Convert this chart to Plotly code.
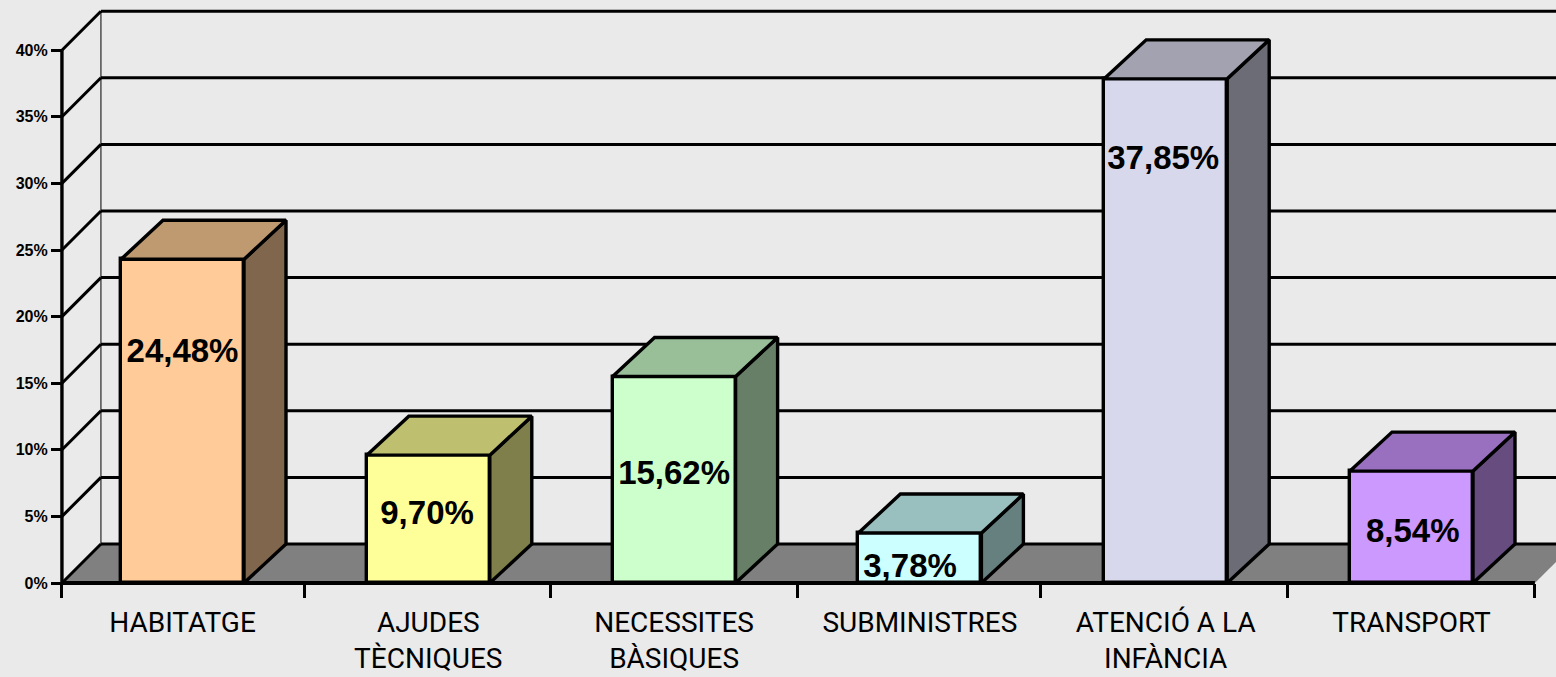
import plotly.graph_objects as go

# ---- data ----
categories = ["HABITATGE", "AJUDES<br>TÈCNIQUES", "NECESSITES<br>BÀSIQUES",
              "SUBMINISTRES", "ATENCIÓ A LA<br>INFÀNCIA", "TRANSPORT"]
bar_values = [24.3, 9.6, 15.5, 3.75, 37.85, 8.4]
value_labels = ["24,48%", "9,70%", "15,62%", "3,78%", "37,85%", "8,54%"]
label_heights = [17.18, 5.08, 8.08, 1.08, 31.68, 3.68]
label_offsets = [0.0, -0.005, 0.0, -0.04, -0.01, 0.005]
y_ticks = [0, 5, 10, 15, 20, 25, 30, 35, 40]
y_tick_text = ["0%", "5%", "10%", "15%", "20%", "25%", "30%", "35%", "40%"]
x_boundaries = [-0.4905, 0.498, 1.499, 2.504, 3.492, 4.497, 5.502]

front_colors = ["#FFCC99", "#FFFF99", "#CCFFCC", "#CCFFFF", "#D8D8EC", "#CC99FF"]
top_colors = ["#BF9970", "#BFBF70", "#99BF99", "#99BFBF", "#A2A2B1", "#9970BF"]
side_colors = ["#7F664C", "#7F7F4C", "#667F66", "#667F7F", "#6C6C76", "#664C7F"]

# ---- layout constants ----
W, H = 1556, 677
PX_PER_CAT = 245.8
PX_PER_PCT = 13.32
X0_PX, Y0_PX = 182.5, 583.0
DEPTH_X = 42 / PX_PER_CAT
WALL_X = 39 / PX_PER_CAT
DEPTH_Y = 39 / PX_PER_PCT
BAR_W = 123 / PX_PER_CAT
BG = "#EAEAEA"
LW = 3.4

x_range = [-X0_PX / PX_PER_CAT, (W - X0_PX) / PX_PER_CAT]
y_range = [-(H - Y0_PX) / PX_PER_PCT, Y0_PX / PX_PER_PCT]
x_left, x_right = x_boundaries[0], x_boundaries[-1]

shapes = []
def line(x0, y0, x1, y1, width=LW, layer="below"):
    shapes.append(dict(type="line", xref="x", yref="y", x0=x0, y0=y0, x1=x1, y1=y1,
                       layer=layer, line=dict(color="black", width=width)))

# floor
shapes.append(dict(type="path", xref="x", yref="y", layer="below",
                   path=f"M {x_left} 0 L {x_left + WALL_X} {DEPTH_Y} "
                        f"L {x_right + WALL_X} {DEPTH_Y} L {x_right} 0 Z",
                   fillcolor="#808080", line=dict(width=0)))
# wall corner, gridlines and diagonals
line(x_left + WALL_X, DEPTH_Y, x_left + WALL_X, y_ticks[-1] + DEPTH_Y, width=1)
for t in y_ticks:
    line(x_left, t, x_left + WALL_X, t + DEPTH_Y, width=3)
    line(x_left + WALL_X, t + DEPTH_Y, x_range[1], t + DEPTH_Y, width=3)

fig = go.Figure()
# front faces
fig.add_trace(go.Bar(x=list(range(len(bar_values))), y=bar_values, width=BAR_W,
                     marker=dict(color=front_colors, line=dict(color="black", width=LW)),
                     showlegend=False, hoverinfo="skip"))
# side and top faces
for i, v in enumerate(bar_values):
    xl, xr = i - BAR_W / 2, i + BAR_W / 2
    fig.add_trace(go.Scatter(
        x=[xr, xr + DEPTH_X, xr + DEPTH_X, xr, xr],
        y=[0, DEPTH_Y, v + DEPTH_Y, v, 0],
        mode="lines", fill="toself", fillcolor=side_colors[i],
        line=dict(color="black", width=LW), showlegend=False, hoverinfo="skip"))
    fig.add_trace(go.Scatter(
        x=[xl, xl + DEPTH_X, xr + DEPTH_X, xr, xl],
        y=[v, v + DEPTH_Y, v + DEPTH_Y, v, v],
        mode="lines", fill="toself", fillcolor=top_colors[i],
        line=dict(color="black", width=LW), showlegend=False, hoverinfo="skip"))

# value labels
fig.add_trace(go.Scatter(
    x=[i + o for i, o in enumerate(label_offsets)], y=label_heights, mode="text",
    text=value_labels, textposition="middle center",
    textfont=dict(family="Liberation Sans", size=33, color="black", weight="bold"),
    showlegend=False, hoverinfo="skip"))

# axis lines on top
line(x_left, 0, x_left, y_ticks[-1], layer="above")
line(x_left, 0, x_right, 0, layer="above", width=4)

fig.update_layout(
    width=W, height=H, margin=dict(l=0, r=0, t=0, b=0, pad=0), autosize=False,
    paper_bgcolor=BG, plot_bgcolor=BG, shapes=shapes, bargap=0,
    xaxis=dict(range=x_range, domain=[0, 1], anchor="free", position=(H - Y0_PX) / H,
               automargin=False,
               showgrid=False, zeroline=False, showline=False,
               tickmode="array", tickvals=list(range(len(categories))), ticktext=categories,
               ticks="outside", ticklen=14, tickcolor="rgba(0,0,0,0)",
               tickfont=dict(family="Roboto", size=28, color="black"),
               minor=dict(ticks="outside", tickvals=x_boundaries, ticklen=14, tickwidth=3,
                          tickcolor="black", showgrid=False)),
    yaxis=dict(range=y_range, domain=[0, 1], anchor="free", position=(x_left - x_range[0]) / (x_range[1] - x_range[0]),
               automargin=False,
               showgrid=False, zeroline=False, showline=False,
               tickmode="array", tickvals=y_ticks, ticktext=y_tick_text,
               ticks="outside", ticklen=11, tickwidth=3, tickcolor="black",
               tickfont=dict(family="Liberation Sans", size=16, color="black", weight="bold")),
)
fig.write_html("out.html", config=dict(displayModeBar=False),
               post_script="document.body.style.margin='0';document.body.style.overflow='hidden';")
